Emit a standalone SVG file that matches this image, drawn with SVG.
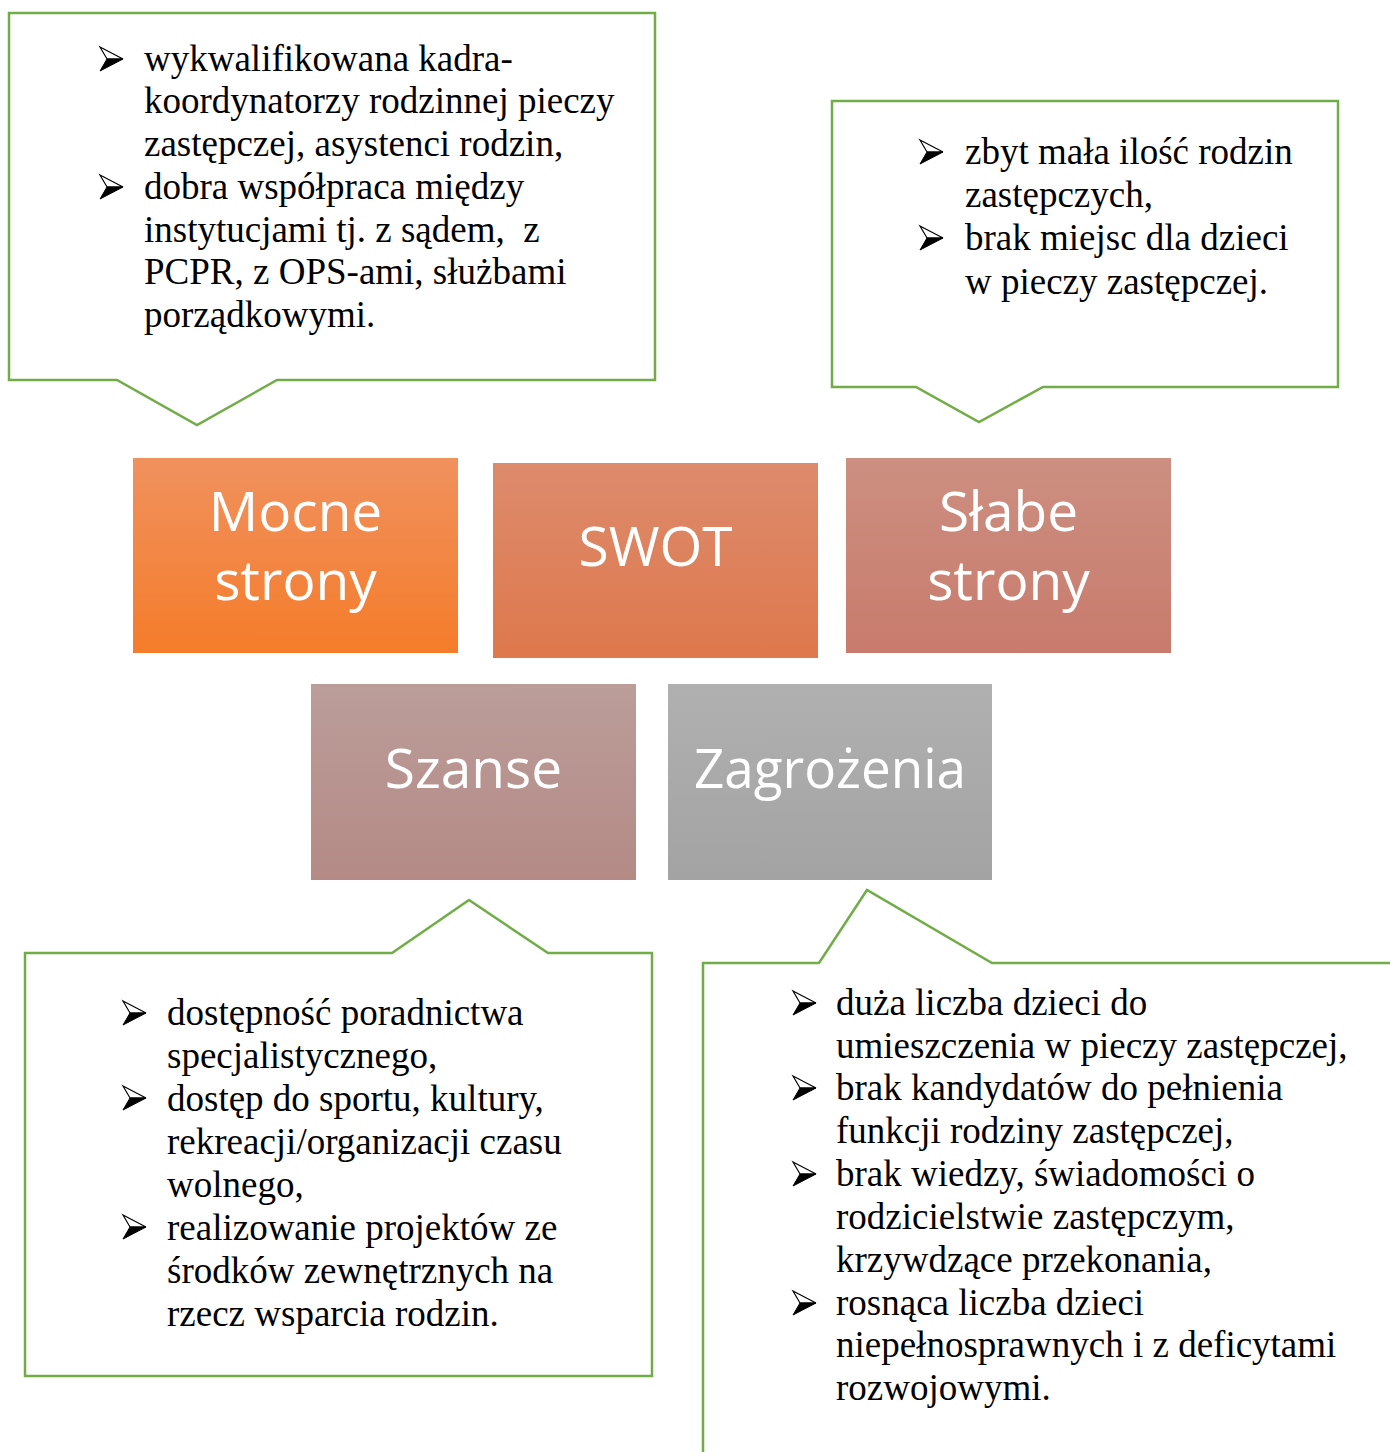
<svg xmlns="http://www.w3.org/2000/svg" xmlns:xlink="http://www.w3.org/1999/xlink" width="1390" height="1452" viewBox="0 0 1390 1452">
<style>
.callout{fill:#ffffff;stroke:#70AD47;stroke-width:2.5;stroke-linejoin:miter}
.body{font-family:"Liberation Serif","Times New Roman",serif;font-size:37px;fill:#000000}
.title{font-family:"Open Sans","Liberation Sans",sans-serif;font-size:55px;fill:#ffffff;text-anchor:middle}
</style>
<defs>
<linearGradient id="gM" x1="0" y1="0" x2="0" y2="1"><stop offset="0" stop-color="#F0915E"/><stop offset="1" stop-color="#F57C2A"/></linearGradient>
<linearGradient id="gS" x1="0" y1="0" x2="0" y2="1"><stop offset="0" stop-color="#DD8B6D"/><stop offset="1" stop-color="#DE784C"/></linearGradient>
<linearGradient id="gW" x1="0" y1="0" x2="0" y2="1"><stop offset="0" stop-color="#CC8F81"/><stop offset="1" stop-color="#C87B6C"/></linearGradient>
<linearGradient id="gO" x1="0" y1="0" x2="0" y2="1"><stop offset="0" stop-color="#BB9D9A"/><stop offset="1" stop-color="#B48A85"/></linearGradient>
<linearGradient id="gT" x1="0" y1="0" x2="0" y2="1"><stop offset="0" stop-color="#B0B0B0"/><stop offset="1" stop-color="#A3A3A3"/></linearGradient>
<g id="bullet">
<path d="M0,0 L23,12 L7,12 Z" fill="#ffffff" stroke="#000000" stroke-width="1.2" stroke-linejoin="miter"/>
<path d="M7,12 L23,12 L0,24 Z" fill="#000000" stroke="#000000" stroke-width="1" stroke-linejoin="miter"/>
</g>
</defs>
<rect width="1390" height="1452" fill="#ffffff"/>

<g id="connectors"></g>

<g id="callout-strengths">
<path class="callout" d="M9,13 H655 V380 H277 L197,425 L117,380 H9 Z"/>
<use xlink:href="#bullet" x="100" y="47"/>
<use xlink:href="#bullet" x="100" y="175"/>
<text class="body" x="144" y="71">wykwalifikowana kadra-</text>
<text class="body" x="144" y="113">koordynatorzy rodzinnej pieczy</text>
<text class="body" x="144" y="156">zastępczej, asystenci rodzin,</text>
<text class="body" x="144" y="199">dobra współpraca między</text>
<text class="body" x="144" y="242" xml:space="preserve">instytucjami tj. z sądem,  z</text>
<text class="body" x="144" y="284">PCPR, z OPS-ami, służbami</text>
<text class="body" x="144" y="327">porządkowymi.</text>
</g>

<g id="callout-weaknesses">
<path class="callout" d="M832,101 H1338 V387 H1043 L979,422 L916,387 H832 Z"/>
<use xlink:href="#bullet" x="920" y="140"/>
<use xlink:href="#bullet" x="920" y="226"/>
<text class="body" x="965" y="164">zbyt mała ilość rodzin</text>
<text class="body" x="965" y="207">zastępczych,</text>
<text class="body" x="965" y="250">brak miejsc dla dzieci</text>
<text class="body" x="965" y="294">w pieczy zastępczej.</text>
</g>

<g id="node-mocne">
<rect x="133" y="458" width="325" height="195" fill="url(#gM)"/>
<text class="title" x="295.5" y="531">Mocne</text>
<text class="title" x="295.5" y="600">strony</text>
</g>

<g id="node-swot">
<rect x="493" y="463" width="325" height="195" fill="url(#gS)"/>
<text class="title" x="655.5" y="566">SWOT</text>
</g>

<g id="node-slabe">
<rect x="846" y="458" width="325" height="195" fill="url(#gW)"/>
<text class="title" x="1008.5" y="531">Słabe</text>
<text class="title" x="1008.5" y="600">strony</text>
</g>

<g id="node-szanse">
<rect x="311" y="684" width="325" height="196" fill="url(#gO)"/>
<text class="title" x="473.5" y="788">Szanse</text>
</g>

<g id="node-zagrozenia">
<rect x="668" y="684" width="324" height="196" fill="url(#gT)"/>
<text class="title" x="830" y="788" textLength="272" lengthAdjust="spacingAndGlyphs">Zagrożenia</text>
</g>

<g id="callout-opportunities">
<path class="callout" d="M25,953 H392 L469,900 L548,953 H652 V1376 H25 Z"/>
<use xlink:href="#bullet" x="123" y="1001"/>
<use xlink:href="#bullet" x="123" y="1086"/>
<use xlink:href="#bullet" x="123" y="1215"/>
<text class="body" x="167" y="1025">dostępność poradnictwa</text>
<text class="body" x="167" y="1068">specjalistycznego,</text>
<text class="body" x="167" y="1111">dostęp do sportu, kultury,</text>
<text class="body" x="167" y="1154">rekreacji/organizacji czasu</text>
<text class="body" x="167" y="1197">wolnego,</text>
<text class="body" x="167" y="1240">realizowanie projektów ze</text>
<text class="body" x="167" y="1283">środków zewnętrznych na</text>
<text class="body" x="167" y="1326">rzecz wsparcia rodzin.</text>
</g>

<g id="callout-threats">
<path class="callout" d="M703,1470 V963 H819 L867,890 L992,963 H1410 V1470 Z"/>
<use xlink:href="#bullet" x="793" y="991"/>
<use xlink:href="#bullet" x="793" y="1076"/>
<use xlink:href="#bullet" x="793" y="1162"/>
<use xlink:href="#bullet" x="793" y="1291"/>
<text class="body" x="836" y="1015">duża liczba dzieci do</text>
<text class="body" x="836" y="1058">umieszczenia w pieczy zastępczej,</text>
<text class="body" x="836" y="1100">brak kandydatów do pełnienia</text>
<text class="body" x="836" y="1143">funkcji rodziny zastępczej,</text>
<text class="body" x="836" y="1186">brak wiedzy, świadomości o</text>
<text class="body" x="836" y="1229">rodzicielstwie zastępczym,</text>
<text class="body" x="836" y="1272">krzywdzące przekonania,</text>
<text class="body" x="836" y="1315">rosnąca liczba dzieci</text>
<text class="body" x="836" y="1357">niepełnosprawnych i z deficytami</text>
<text class="body" x="836" y="1400">rozwojowymi.</text>
</g>
</svg>
